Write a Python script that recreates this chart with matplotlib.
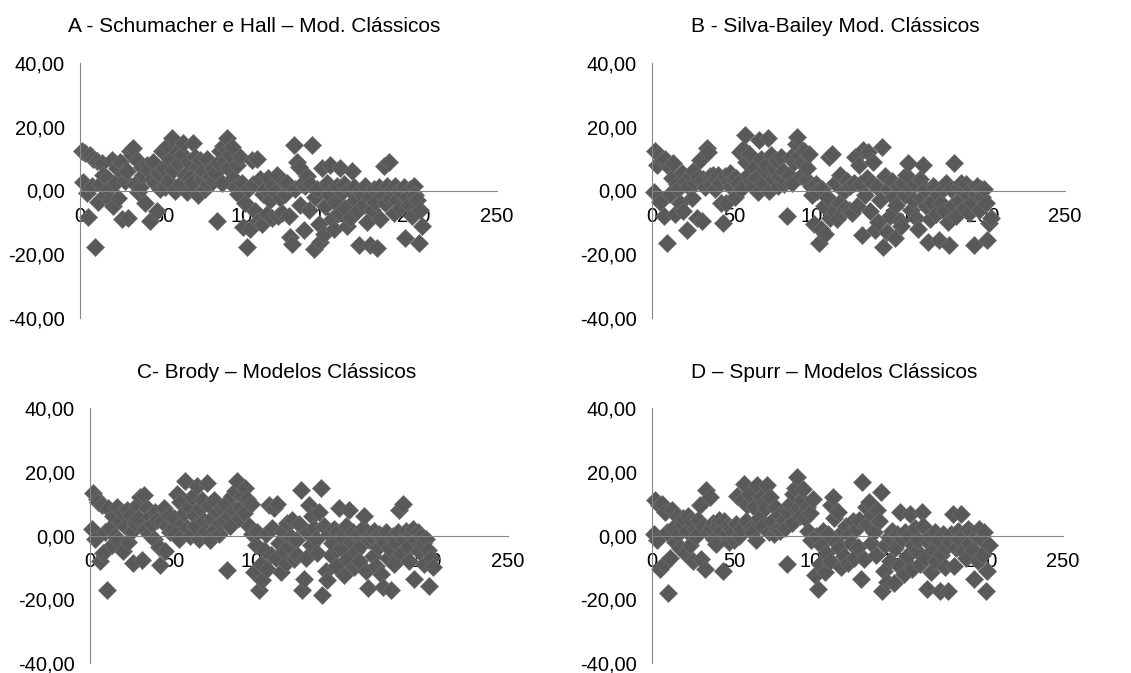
import matplotlib.pyplot as plt
from matplotlib.ticker import FuncFormatter

plt.rcParams['font.family'] = ['Liberation Sans', 'DejaVu Sans']

# observation number (x) and residuals (%) for each model
obs = list(range(1, 206))

res_a = [12.5, 2.7, 11.8, -0.8, -8.4, 11.0, 1.5, 10.0, -17.8, 9.2,
         -3.5, 2.0, 8.5, 5.0, -1.5, 4.0, 0.5, -3.0, 9.5, -5.0,
         2.5, 7.0, -2.5, 8.8, -9.0, 5.5, 3.0, 6.0, -8.5, 12.5,
         11.0, 13.3, 2.0, 9.5, -0.5, 1.0, 7.5, 5.0, -4.0, 8.0,
         6.5, -9.7, 3.5, 9.0, 2.5, -6.5, 5.5, 0.5, 12.5, 7.0,
         1.0, 14.0, 3.0, 10.0, 16.6, 6.5, 0.0, 12.0, 8.5, 2.0,
         11.5, 15.0, 5.0, -0.5, 9.0, 4.0, 2.5, 15.0, 10.5, 7.5,
         -1.5, 9.5, 3.5, 6.0, 0.5, 10.0, 2.0, 4.5, 7.0, 3.0,
         5.5, -9.7, 8.5, 12.5, 2.5, 14.0, 9.5, 16.6, 7.0, 11.0,
         13.5, 4.0, 1.0, 8.0, -1.0, 10.5, 2.5, -11.5, -4.0, -17.8,
         0.5, -12.0, 9.5, 2.0, -6.5, 10.0, -9.5, 3.5, -10.5, -1.0,
         0.5, -7.5, 4.0, -3.0, -8.5, 1.5, -0.5, 5.0, -8.0, -2.5,
         -7.0, 3.0, -1.0, 2.5, -8.0, -14.5, -16.7, 14.4, 0.5, 9.0,
         7.5, -4.5, 2.0, -12.5, 1.5, 4.5, -6.0, 2.0, 14.4, -18.4,
         -2.0, 0.5, -10.5, -16.0, 7.0, -13.5, -5.0, 2.5, -1.0, 8.0,
         -9.0, -12.0, -3.5, 1.5, -7.0, 7.0, -0.5, 2.0, -5.5, -11.0,
         0.5, -8.5, 6.0, 1.0, -3.0, -6.5, -17.2, 0.0, -1.5, -4.5,
         1.5, -10.0, -2.0, -17.2, -6.0, 0.5, -3.5, -18.0, 1.0, -9.0,
         -1.5, 7.7, -4.0, 1.5, 9.0, -2.5, 0.5, -7.0, 1.5, -3.0,
         0.0, -5.5, -1.0, 1.0, -14.8, -2.0, -4.5, 0.5, -8.0, 1.5,
         -1.5, -3.0, -16.5, -6.0, -11.0]

res_b = [-0.5, 12.5, 8.0, 11.0, -3.5, 9.5, -8.0, 10.0, -16.5, 7.5,
         -1.0, 4.0, 8.5, -7.5, 2.0, 0.5, -4.0, 5.5, -6.5, 3.0,
         -12.3, 1.5, 5.0, -2.5, 6.0, 2.5, -8.6, 4.0, 9.6, -9.5,
         3.5, 1.0, 13.2, 12.0, 4.5, 2.0, 5.0, 0.5, 3.5, 5.0,
         2.5, -4.0, -10.2, 4.5, -4.0, 3.0, 5.5, 1.0, 3.5, -2.0,
         4.0, 2.5, 12.0, 0.5, 13.0, 17.4, 9.0, 5.0, 11.5, 3.0,
         1.5, 7.5, 4.0, -0.5, 15.8, 10.0, 2.5, 6.5, 8.0, 16.4,
         0.0, 11.0, 3.5, 7.0, 9.5, 1.5, 4.5, 10.5, 6.0, 2.0,
         3.0, -8.1, 5.0, 10.5, 2.5, 9.0, 14.5, 16.9, 11.0, 4.5,
         9.0, 12.5, 3.5, 7.0, 11.5, 1.5, -1.5, -10.5, 2.0, 0.0,
         -16.5, -12.0, 0.5, -5.0, -13.5, -2.0, 10.5, -8.5, 11.5, -6.5,
         2.5, -9.0, -4.0, 5.0, -7.0, 0.0, -5.5, 3.0, -6.0, 1.5,
         -7.0, 2.5, 10.5, -5.0, 8.0, 2.0, -13.9, 12.7, -1.5, 4.0,
         12.0, -6.5, 2.5, 9.0, -12.5, 1.0, -10.0, -3.0, 13.8, -17.8,
         4.5, -13.0, 0.5, -8.0, 3.0, -2.0, -15.0, -4.5, 1.5, -9.5,
         -11.0, 2.5, -1.5, 5.0, 8.5, 0.5, -6.0, -3.0, 2.0, -8.5,
         -12.0, 3.5, -2.5, 8.0, 0.5, -5.0, -16.0, -9.0, -3.5, 1.5,
         1.0, -7.5, -1.0, -15.4, -4.0, 0.5, -6.5, 2.5, -10.0, -17.0,
         0.5, -4.5, 8.5, -8.0, 1.0, -3.0, 2.5, 0.0, -5.5, 2.0,
         -1.5, -7.0, 0.5, -3.5, -17.0, -1.0, 1.5, -6.0, 0.5, -2.0,
         0.5, -4.0, -15.4, -10.2, -8.5]

res_c = [2.0, 13.3, -1.0, 11.5, 10.5, -8.0, 9.5, -5.5, 1.0, -17.0,
         8.5, 2.5, -3.0, 6.0, 0.0, 9.0, -1.5, 4.5, 7.5, -5.0,
         3.0, 8.0, -2.0, 6.5, 1.5, -8.7, 4.0, 9.5, 5.5, 12.0,
         -7.6, 12.8, 2.0, 8.5, 0.5, 6.0, 3.5, -1.0, 7.5, 5.0,
         -3.5, -9.2, 4.5, 8.5, -5.0, 3.0, 6.5, 1.0, 2.0, 5.5,
         0.5, 13.0, -1.0, 10.5, 4.0, 7.0, 17.0, 2.5, 9.0, 0.0,
         12.0, 6.5, 3.0, 15.4, -1.0, 8.5, 11.0, 4.5, 1.5, 16.4,
         9.5, -1.5, 5.5, 11.0, 2.0, 7.5, 0.5, 4.0, 8.5, 5.0,
         10.0, -10.8, 6.0, 3.0, 12.5, 8.0, 14.0, 17.0, 5.5, 9.0,
         12.5, 7.0, 15.0, 11.5, 3.0, 10.0, 0.5, -11.5, -3.0, 1.0,
         -17.0, -9.0, -14.0, -4.5, 0.5, -10.5, 9.5, -6.0, 2.5, 8.5,
         -7.0, 10.0, -2.5, -11.5, 1.5, -5.0, -8.5, 4.0, -3.0, -0.5,
         5.0, -7.5, -1.5, -6.0, 3.5, 14.3, -17.0, -13.5, -7.0, 1.0,
         9.5, -3.0, 6.0, 2.5, -1.0, -5.5, 7.5, 14.9, -18.6, 3.0,
         -11.0, -14.0, 0.5, -6.0, -2.5, 2.0, -9.5, 1.0, 8.6, -4.0,
         -0.5, -12.5, 3.0, -7.5, 8.0, -2.0, 1.0, -10.0, -5.0, 0.5,
         -8.0, -3.0, 2.5, 6.0, -11.0, -16.5, -1.5, 0.0, -6.5, 1.5,
         -9.5, -3.5, 0.5, -12.0, -16.0, -2.0, 1.0, -7.0, -4.0, -17.0,
         0.0, -9.0, -2.5, 1.0, 8.0, -5.5, 10.0, -1.0, 1.5, -3.5,
         -8.0, 0.5, 2.0, -13.7, -1.5, 1.0, -5.0, 0.0, -2.5, -9.0,
         -1.0, -4.5, -15.8, -7.0, -10.0]

res_d = [0.5, 11.0, -1.5, 9.5, -10.5, 10.0, -9.0, 7.5, 1.0, -18.0,
         -7.0, 8.0, 2.5, -2.0, 6.0, 0.5, -4.0, 3.5, 5.5, -5.5,
         1.5, 6.0, -3.0, 4.5, -8.0, 2.0, 0.0, 5.0, 9.5, -7.5,
         3.0, -10.5, 14.2, 1.0, 12.1, 2.5, 4.0, -1.0, -2.6, 3.5,
         5.0, 1.5, -11.0, 4.5, 0.5, 3.0, -2.0, 2.5, 1.0, -1.5,
         3.5, 12.5, 0.0, 2.0, 11.0, 16.3, 4.5, 9.5, 13.0, 2.5,
         1.0, 9.0, -1.5, 15.8, 5.5, 12.0, 3.0, 10.5, 8.5, 15.8,
         1.0, 12.0, 4.5, 0.5, 9.0, 2.0, 6.5, 1.5, 3.0, 5.0,
         2.5, -9.0, 7.5, 10.0, 4.0, 13.0, 15.0, 18.4, 8.5, 6.0,
         11.0, 14.5, 5.5, 9.0, 1.5, 7.0, -1.5, 11.6, -12.5, 0.0,
         -16.8, -9.0, -3.0, 1.5, -11.5, -5.5, 0.5, -8.0, 9.5, 12.0,
         5.5, -2.0, 7.5, -4.0, -10.0, 1.5, -6.5, 3.0, -8.5, 0.5,
         -2.5, 4.5, -7.0, 2.0, -3.5, 5.0, -13.7, 16.8, -7.5, 9.0,
         3.5, 10.5, -2.5, 6.5, 1.0, -6.0, 8.0, 4.5, 13.7, -17.4,
         -11.0, -3.0, -14.5, -0.5, -8.0, 1.5, -15.0, -4.0, 0.5, -9.5,
         7.4, -1.0, -12.0, 1.0, -6.5, 0.0, 6.8, -10.5, -3.0, 2.5,
         -5.0, -1.5, -9.0, 7.4, 3.0, -7.0, -16.8, -2.0, 0.0, -11.5,
         -4.5, 1.0, -8.0, -1.5, -17.4, -6.0, 0.5, -10.0, -3.5, -17.4,
         -2.0, 0.5, 6.8, -9.5, -4.0, 1.5, -1.0, 6.8, -5.0, 0.5,
         -7.0, 2.0, -2.5, 1.0, -4.5, -13.7, 0.0, -8.0, 2.0, -1.0,
         -6.0, 1.0, -17.4, -11.0, -3.0]

titles = ["A - Schumacher e Hall \u2013 Mod. Cl\u00e1ssicos",
          "B - Silva-Bailey Mod. Cl\u00e1ssicos",
          "C- Brody \u2013 Modelos Cl\u00e1ssicos",
          "D \u2013 Spurr \u2013 Modelos Cl\u00e1ssicos"]
series = [res_a, res_b, res_c, res_d]

W, H = 1131, 673
# panel boxes in pixels: left, top, width, height ; title x in axes fraction
boxes = [(80, 63, 417, 255, 0.417),
         (652, 63, 413, 255, 0.443),
         (90, 408, 418, 255, 0.447),
         (652, 408, 411, 255, 0.443)]

fig = plt.figure(figsize=(W / 100, H / 100), dpi=100)
comma = FuncFormatter(lambda v, pos: f"{v:.2f}".replace('.', ','))

for (l, t, w, h, tx), title, res in zip(boxes, titles, series):
    ax = fig.add_axes([l / W, 1 - (t + h) / H, w / W, h / H])
    ax.plot(obs, res, linestyle='none', marker='D', markersize=9,
            color='#595959', markeredgecolor='#6e6e6e', markeredgewidth=0.5,
            clip_on=False)
    ax.set_xlim(0, 250)
    ax.set_ylim(-40, 40)
    ax.set_xticks([0, 50, 100, 150, 200, 250])
    ax.set_yticks([-40, -20, 0, 20, 40])
    ax.yaxis.set_major_formatter(comma)
    for s in ['top', 'right']:
        ax.spines[s].set_visible(False)
    ax.spines['bottom'].set_position(('data', 0))
    for s in ['left', 'bottom']:
        ax.spines[s].set_color('#868686')
        ax.spines[s].set_linewidth(0.8)
    ax.tick_params(axis='both', length=0, labelsize=14.5, colors='black')
    ax.tick_params(axis='y', pad=11)
    ax.tick_params(axis='x', pad=12)
    ax.patch.set_visible(False)
    ax.text(tx, 1 + 36 / h, title, transform=ax.transAxes, ha='center',
            va='center', fontsize=15)

fig.savefig('out.png', dpi=100)
